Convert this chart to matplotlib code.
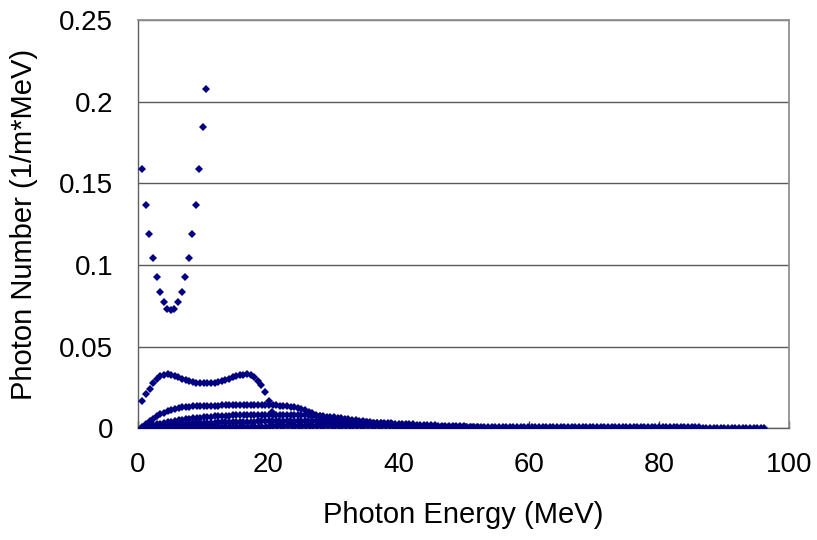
import numpy as np
import matplotlib.pyplot as plt

plt.rcParams['font.family'] = ['Liberation Sans', 'DejaVu Sans']

# Photon spectrum, one series per harmonic. Energies are evenly sampled
# between the first and last point read off the chart.
H1_RANGE = (0.66, 10.5)
H1 = [0.159, 0.137, 0.119, 0.104, 0.0927, 0.0835, 0.0774, 0.0733, 0.0723,
      0.0733, 0.0774, 0.0835, 0.0927, 0.104, 0.119, 0.137, 0.159, 0.1846, 0.208]

H2_RANGE = (0.66, 20.6)
H2 = [0.0167, 0.0212, 0.0243, 0.0275, 0.0300, 0.0318, 0.0327, 0.0329, 0.0326,
      0.0320, 0.0312, 0.0303, 0.0295, 0.0288, 0.0282, 0.0278, 0.0275, 0.0274,
      0.0274, 0.0276, 0.0279, 0.0284, 0.0290, 0.0297, 0.0304, 0.0311, 0.0318,
      0.0324, 0.0328, 0.0330, 0.0327, 0.0315, 0.0292, 0.0262, 0.0220, 0.0167,
      0.0100]

# the remaining series are in units of 1e-4
H3_RANGE = (0.66, 31.2)
H3 = [8, 25, 42, 58, 72, 85, 96, 105, 113, 119, 124, 128, 131, 133, 135, 136,
      137, 137, 138, 138, 139, 139, 140, 141, 141, 142, 143, 143, 144, 144,
      144, 144, 144, 143, 143, 142, 141, 140, 139, 137, 135, 132, 128, 123,
      117, 110, 102, 93, 84, 75, 66, 57, 49, 41, 34, 28]

H4_RANGE = (0.66, 41.2)
H4 = [3, 8, 13, 18, 23, 28, 33, 37, 41, 45, 49, 52, 55, 58, 61, 63, 65, 67, 69,
      71, 72, 74, 75, 76, 77, 78, 79, 79, 80, 80, 81, 81, 81, 82, 82, 82, 82,
      82, 82, 82, 82, 81, 81, 80, 80, 79, 78, 77, 76, 75, 73, 71, 69, 67, 65,
      62, 59, 56, 53, 50, 47, 44, 41, 38, 35, 32, 29, 27, 25, 23, 21, 19, 17, 15]

H5_RANGE = (0.66, 52.2)
H5 = [2, 4, 6, 8, 10, 12, 14, 16, 18, 20, 22, 24, 26, 27, 29, 30, 31, 32, 33,
      34, 35, 36, 37, 38, 38, 39, 39, 40, 40, 41, 41, 41, 42, 42, 42, 42, 43,
      43, 43, 43, 43, 43, 43, 43, 43, 43, 43, 42, 42, 42, 42, 41, 41, 41, 40,
      40, 39, 39, 38, 38, 37, 36, 36, 35, 34, 33, 32, 31, 30, 29, 28, 27, 26,
      25, 24, 23, 22, 21, 20, 19, 18, 17, 16, 15, 14, 14, 13, 12, 11, 11, 10,
      9, 9, 8]

H6_RANGE = (0.66, 96.2)
H6 = [1, 2, 2, 3, 3, 4, 4, 5, 5, 6, 6, 7, 7, 7, 8, 8, 8, 9, 9, 9,
      10, 10, 10, 10, 10, 10, 10, 10, 10, 10, 10, 10, 10, 10, 10, 11, 11, 11,
      11, 11, 11, 11, 11, 11, 11, 11, 11, 11, 11, 11, 11, 11, 11, 11, 11, 11,
      11, 11, 11, 11, 11, 11, 11, 11, 11, 11, 11, 11, 11, 11, 10, 10, 10, 10,
      10, 10, 10, 10, 10, 10, 10, 10, 10, 9, 9, 9, 9, 9, 9, 9, 9, 9, 8, 8, 8,
      8, 8, 8, 8, 8, 8, 8, 7, 7, 7, 7, 7, 7, 7, 7, 7, 7, 7, 6, 6, 6, 6, 6, 6,
      6, 6, 6, 6, 6, 6, 6, 6, 6, 6, 5, 5, 5, 5, 5, 5, 5, 5, 5, 5, 5, 5, 5, 5,
      5, 5, 5, 5, 5, 5, 5, 5, 5, 5, 5, 4, 4, 4, 4, 4, 4, 4, 4, 4, 4, 4, 4, 4,
      4, 4, 4, 4, 4]

SERIES = [
    (H1_RANGE, H1, 1.0),
    (H2_RANGE, H2, 1.0),
    (H3_RANGE, H3, 1e-4),
    (H4_RANGE, H4, 1e-4),
    (H5_RANGE, H5, 1e-4),
    (H6_RANGE, H6, 1e-4),
]

X_TICKS = [0, 20, 40, 60, 80, 100]
Y_TICKS = [0, 0.05, 0.1, 0.15, 0.2, 0.25]
Y_TICK_LABELS = ["0", "0.05", "0.1", "0.15", "0.2", "0.25"]

MARKER_COLOR = "#000080"

fig = plt.figure(figsize=(8.17, 5.4), dpi=100)
ax = fig.add_axes([0.169, 0.207, 0.797, 0.756])

for (x0, x1), vals, scale in SERIES:
    y = np.asarray(vals, dtype=float) * scale
    x = np.linspace(x0, x1, len(y))
    ax.plot(x, y, linestyle="none", marker="D", markersize=4.5,
            color=MARKER_COLOR, markeredgewidth=0, zorder=3)

ax.set_xlim(0, 100)
ax.set_ylim(0, 0.25)
ax.set_xticks(X_TICKS)
ax.set_yticks(Y_TICKS)
ax.set_yticklabels(Y_TICK_LABELS)

ax.yaxis.grid(True, color="#5a5a5a", linewidth=1.0)
ax.set_axisbelow(True)

for side in ["top", "right"]:
    ax.spines[side].set_color("#909090")
    ax.spines[side].set_linewidth(1.3)
for side in ["left", "bottom"]:
    ax.spines[side].set_color("#606060")
    ax.spines[side].set_linewidth(1.0)

ax.tick_params(axis="x", direction="in", length=5, width=1, color="#404040",
               labelsize=20, pad=17)
ax.tick_params(axis="y", direction="in", length=0, labelsize=20, pad=18)

ax.set_xlabel("Photon Energy (MeV)", fontsize=21, labelpad=17)
ax.set_ylabel("Photon Number (1/m*MeV)", fontsize=21, labelpad=15)

fig.savefig("out.png", dpi=100)
